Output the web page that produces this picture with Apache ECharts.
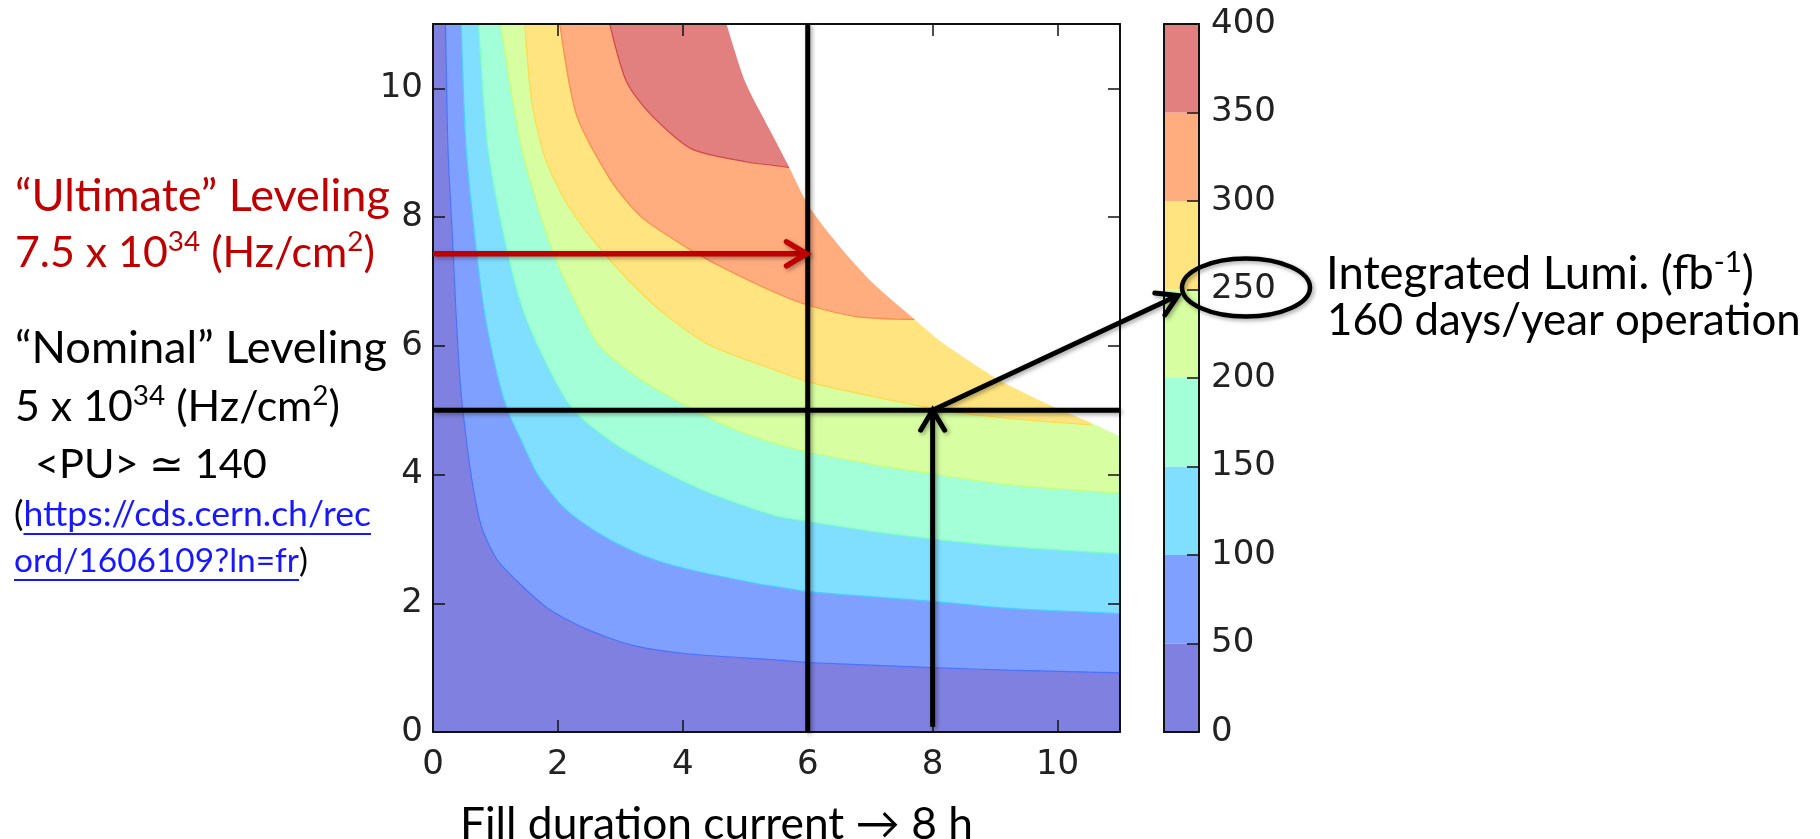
<!DOCTYPE html>
<html>
<head>
<meta charset="utf-8">
<script src="https://cdn.jsdelivr.net/npm/echarts@6/dist/echarts.min.js"></script>
<style>
html, body { margin: 0; padding: 0; background: #ffffff; }
#chart { width: 1820px; height: 839px; }
</style>
</head>
<body>
<div id="chart"></div>
<script>
// ---------------- DATA ----------------
// contour levels of integrated luminosity (fb^-1)
const levels = [0, 50, 100, 150, 200, 250, 300, 350, 400];
// axis ranges / ticks
const xRange = [0, 11];
const yRange = [0, 11];
const xTickStep = 2;
const yTickStep = 2;
const cbTickStep = 50;

// contour lines [fill duration (h), levelled lumi (1e34)]
const contour0 = [[0, 0], [11, 0]];
const contour50 = [[0.20, 11.0], [0.24, 9.06], [0.32, 7.51], [0.37, 6.48], [0.43, 5.50], [0.48, 4.98], [0.61, 3.99], [0.77, 3.21], [1.01, 2.70], [1.36, 2.33], [1.84, 1.92], [2.43, 1.61], [3.18, 1.35], [4.03, 1.22], [5.48, 1.12], [6.01, 1.08], [7.99, 1.00], [9.22, 0.96], [11.0, 0.92]];
const contour100 = [[0.45, 11.0], [0.53, 9.06], [0.69, 7.51], [0.83, 6.48], [1.04, 5.50], [1.20, 4.98], [1.42, 4.51], [1.68, 3.99], [2.11, 3.47], [2.70, 3.06], [3.34, 2.75], [4.03, 2.54], [5.21, 2.30], [5.48, 2.26], [6.01, 2.18], [7.99, 2.03], [9.22, 1.92], [11.0, 1.84]];
const contour150 = [[0.73, 11.0], [0.88, 9.06], [1.18, 7.51], [1.47, 6.48], [1.95, 5.47], [2.27, 4.98], [2.86, 4.51], [3.61, 4.09], [4.41, 3.72], [5.48, 3.36], [6.01, 3.27], [7.08, 3.11], [7.99, 3.00], [9.22, 2.88], [11.0, 2.77]];
const contour200 = [[1.08, 11.0], [1.42, 9.06], [1.90, 7.51], [2.38, 6.48], [2.70, 5.96], [3.29, 5.50], [3.71, 5.25], [4.14, 5.02], [4.78, 4.72], [5.48, 4.48], [6.01, 4.35], [7.08, 4.15], [7.99, 4.01], [9.22, 3.84], [11.0, 3.71]];
const contour250 = [[1.47, 11.0], [1.58, 9.80], [1.80, 8.90], [2.15, 8.20], [2.60, 7.60], [3.10, 7.05], [3.70, 6.50], [4.45, 6.00], [5.48, 5.62], [6.01, 5.44], [6.81, 5.26], [7.61, 5.10], [8.47, 4.95], [9.50, 4.85], [10.55, 4.77]];
const contour300 = [[2.03, 11.0], [2.30, 9.58], [2.86, 8.55], [3.34, 8.00], [4.09, 7.51], [4.67, 7.20], [5.45, 6.84], [6.01, 6.63], [6.81, 6.45], [7.72, 6.41]];
const contour350 = [[2.83, 11.0], [3.10, 10.1], [3.50, 9.58], [4.14, 9.06], [5.00, 8.86], [5.48, 8.80], [5.70, 8.77]];
// upper-right limit of the reachable region (white above it)
const feasibleEdge = [[4.70, 11.0], [5.00, 10.1], [5.45, 9.25], [5.68, 8.82], [6.01, 8.18], [6.54, 7.51], [7.08, 6.94], [7.69, 6.43], [8.17, 6.04], [9.10, 5.45], [9.99, 5.03], [10.5, 4.82], [11.0, 4.59]];

// annotation values
const ultimateLevel = 7.43;
const nominalLevel = 5;
const currentFill = 6;
const proposedFill = 8;
const circledValue = 250;

// texts
const xAxisTitle = 'Fill duration current \u2192 8 h';

// ---------------- STYLE ----------------
const bandColors = ['#8080e1', '#80a0ff', '#80dfff', '#a3ffd7', '#d7ffa1', '#ffe480', '#ffac7f', '#e27f7f'];
const lineColors = ['rgba(0,0,0,0)', '#4a72ff', '#4ccbff', '#79ffc2', '#c4ff78', '#ffd94c', '#ff8a4c', '#d24848'];
const contours = [contour0, contour50, contour100, contour150, contour200, contour250, contour300, contour350];

const FAM = 'Lato, "DejaVu Sans", sans-serif';
const NUMFAM = '"DejaVu Sans", sans-serif';
const axisLineS = { show: true, onZero: false, lineStyle: { color: '#111', width: 2 } };
const tickS = { show: true, inside: true, length: 12, lineStyle: { color: '#111', width: 1.5 } };
const labS = { fontFamily: NUMFAM, fontSize: 34, color: '#222' };

const chart = echarts.init(document.getElementById('chart'), null, { renderer: 'canvas', width: 1820, height: 839 });

const series = [];
contours.forEach((pts, i) => {
  series.push({
    type: 'line', xAxisIndex: 0, yAxisIndex: 0, data: pts,
    symbol: 'none', showSymbol: false, smooth: 0.25,
    lineStyle: { color: lineColors[i], width: i === 0 ? 0 : 1.2 },
    areaStyle: { color: bandColors[i], opacity: 1, origin: 'end' },
    z: 2 + i, silent: true
  });
});
series.push({
  type: 'line', xAxisIndex: 0, yAxisIndex: 0, data: feasibleEdge,
  symbol: 'none', showSymbol: false, smooth: 0.25,
  lineStyle: { width: 0, color: '#fff' },
  areaStyle: { color: '#ffffff', opacity: 1, origin: 'end' },
  z: 12, silent: true
});
for (let i = 0; i < levels.length - 1; i++) {
  series.push({
    type: 'bar', xAxisIndex: 2, yAxisIndex: 2, stack: 'cb', barWidth: '100%',
    data: [levels[i + 1] - levels[i]],
    itemStyle: { color: bandColors[i] }, silent: true, z: 2
  });
}

const option = {
  animation: false,
  backgroundColor: '#ffffff',
  grid: [
    { left: 433, top: 24, width: 687, height: 708 },
    { left: 1164, top: 24, width: 35, height: 708 }
  ],
  xAxis: [
    { gridIndex: 0, type: 'value', min: xRange[0], max: xRange[1], interval: xTickStep, position: 'bottom',
      axisLine: axisLineS, axisTick: tickS, splitLine: { show: false },
      axisLabel: Object.assign({ margin: 16, showMaxLabel: false }, labS), z: 30 },
    { gridIndex: 0, type: 'value', min: xRange[0], max: xRange[1], interval: xTickStep, position: 'top',
      axisLine: axisLineS, axisTick: tickS, splitLine: { show: false }, axisLabel: { show: false }, z: 30 },
    { gridIndex: 1, type: 'category', data: ['cb'], position: 'bottom', axisLine: axisLineS,
      axisTick: { show: false }, axisLabel: { show: false }, z: 30 },
    { gridIndex: 1, type: 'category', data: ['cb'], position: 'top', axisLine: axisLineS,
      axisTick: { show: false }, axisLabel: { show: false }, z: 30 }
  ],
  yAxis: [
    { gridIndex: 0, type: 'value', min: yRange[0], max: yRange[1], interval: yTickStep, position: 'left',
      axisLine: axisLineS, axisTick: tickS, splitLine: { show: false },
      axisLabel: Object.assign({ margin: 10, showMaxLabel: false }, labS), z: 30 },
    { gridIndex: 0, type: 'value', min: yRange[0], max: yRange[1], interval: yTickStep, position: 'right',
      axisLine: axisLineS, axisTick: tickS, splitLine: { show: false }, axisLabel: { show: false }, z: 30 },
    { gridIndex: 1, type: 'value', min: levels[0], max: levels[levels.length - 1], interval: cbTickStep, position: 'right',
      axisLine: axisLineS, axisTick: tickS, splitLine: { show: false },
      axisLabel: Object.assign({ margin: 12 }, labS), z: 30 },
    { gridIndex: 1, type: 'value', min: levels[0], max: levels[levels.length - 1], interval: cbTickStep, position: 'left',
      axisLine: axisLineS, axisTick: { show: false }, splitLine: { show: false }, axisLabel: { show: false }, z: 30 }
  ],
  series: series
};
chart.setOption(option);

// ---------------- ANNOTATIONS ----------------
const P = (x, y) => chart.convertToPixel({ xAxisIndex: 0, yAxisIndex: 0 }, [x, y]);
const cbY = v => chart.convertToPixel({ yAxisIndex: 2 }, v);
const cbLeft = option.grid[1].left, cbRight = option.grid[1].left + option.grid[1].width;

const SH = { shadowBlur: 4, shadowOffsetX: 2, shadowOffsetY: 2, shadowColor: 'rgba(0,0,0,0.35)' };
const G = [];

function seg(p0, p1, color, w) {
  G.push({ type: 'polyline', z: 100, shape: { points: [p0, p1] },
    style: Object.assign({ stroke: color, lineWidth: w, fill: null, lineCap: 'butt' }, SH) });
}
function arrow(p0, p1, color, w) {
  const dx = p1[0] - p0[0], dy = p1[1] - p0[1], L = Math.hypot(dx, dy), ux = dx / L, uy = dy / L;
  const hl = 20, hw = 12;
  const a = [p1[0] - ux * hl - uy * hw, p1[1] - uy * hl + ux * hw];
  const b = [p1[0] - ux * hl + uy * hw, p1[1] - uy * hl - ux * hw];
  const end = [p1[0] - ux * w * 0.5, p1[1] - uy * w * 0.5];
  seg(p0, end, color, w);
  G.push({ type: 'polyline', z: 101, shape: { points: [a, p1, b] },
    style: Object.assign({ stroke: color, lineWidth: w, fill: null, lineJoin: 'miter', lineCap: 'round' }, SH) });
}

// reference lines
seg(P(currentFill, yRange[1]), P(currentFill, yRange[0]), '#000', 5);
seg(P(xRange[0], nominalLevel), P(xRange[1], nominalLevel), '#000', 5);
// red arrow (ultimate levelling)
arrow(P(xRange[0], ultimateLevel), P(5.98, ultimateLevel), '#c00000', 5.5);
// vertical arrow to 8 h
arrow(P(proposedFill, 0.08), P(proposedFill, nominalLevel), '#000', 5);
// diagonal arrow to colour bar
arrow(P(proposedFill, nominalLevel), [cbLeft + 14, cbY(circledValue) + 6], '#000', 5);
// ellipse around 250
G.push({ type: 'ellipse', z: 100, shape: { cx: cbRight + 47, cy: cbY(circledValue) - 2, rx: 64, ry: 29 },
  style: Object.assign({ fill: null, stroke: '#000', lineWidth: 4.5 }, SH) });

// text helpers
const SUP = 0.65;
const mctx = document.createElement('canvas').getContext('2d');
function partW(t, k, size) {
  mctx.font = (k === 's' ? size * SUP : size) + 'px ' + FAM;
  return mctx.measureText(t).width;
}
function widthAt(parts, size) { return parts.reduce((w, p) => w + partW(p[0], p[1], size), 0); }
function textLine(parts, x, baseline, targetW, color) {
  const s = 100 * targetW / widthAt(parts, 100);
  const rich = {
    a: { fontFamily: FAM, fontSize: s, fill: color, lineHeight: 1.2 * s },
    k: { fontFamily: FAM, fontSize: s, fill: '#000', lineHeight: 1.2 * s },
    l: { fontFamily: FAM, fontSize: s, fill: '#1818ff', lineHeight: 1.2 * s },
    s: { fontFamily: FAM, fontSize: s * SUP, fill: color, lineHeight: 0.757 * s, verticalAlign: 'top' }
  };
  const text = parts.map(p => '{' + p[1] + '|' + p[0] + '}').join('');
  G.push({ type: 'text', z: 100, x: x, y: baseline - 0.387 * s,
    style: { text: text, rich: rich, align: 'left', verticalAlign: 'middle', font: s + 'px ' + FAM, fill: color } });
  // underline for link parts
  let cx = x;
  parts.forEach(p => {
    const w = partW(p[0], p[1], s);
    if (p[1] === 'l') {
      G.push({ type: 'line', z: 100, shape: { x1: cx, y1: baseline + 6, x2: cx + w, y2: baseline + 6 },
        style: { stroke: '#1818ff', lineWidth: 2 } });
    }
    cx += w;
  });
}

textLine([['\u201cUltimate\u201d Leveling', 'a']], 15, 214, 375, '#c00000');
textLine([['7.5 x 10', 'a'], ['34', 's'], [' (Hz/cm', 'a'], ['2', 's'], [')', 'a']], 15, 270, 360, '#c00000');
textLine([['\u201cNominal\u201d Leveling', 'a']], 15, 366, 372, '#000');
textLine([['5 x 10', 'a'], ['34', 's'], [' (Hz/cm', 'a'], ['2', 's'], [')', 'a']], 15, 424, 325, '#000');
textLine([['<PU> \u2243 140', 'a']], 35, 481, 232, '#000');
textLine([['(', 'k'], ['https://cds.cern.ch/rec', 'l']], 14, 528, 357, '#000');
textLine([['ord/1606109?ln=fr', 'l'], [')', 'k']], 14, 574, 294, '#000');
textLine([['Integrated Lumi. (fb', 'a'], ['-1', 's'], [')', 'a']], 1326, 292, 428, '#000');
textLine([['160 days/year operation', 'a']], 1327, 338, 474, '#000');
textLine([[xAxisTitle, 'a']], 460, 842, 513, '#000');

chart.setOption({ graphic: { elements: G } });
</script>
</body>
</html>
